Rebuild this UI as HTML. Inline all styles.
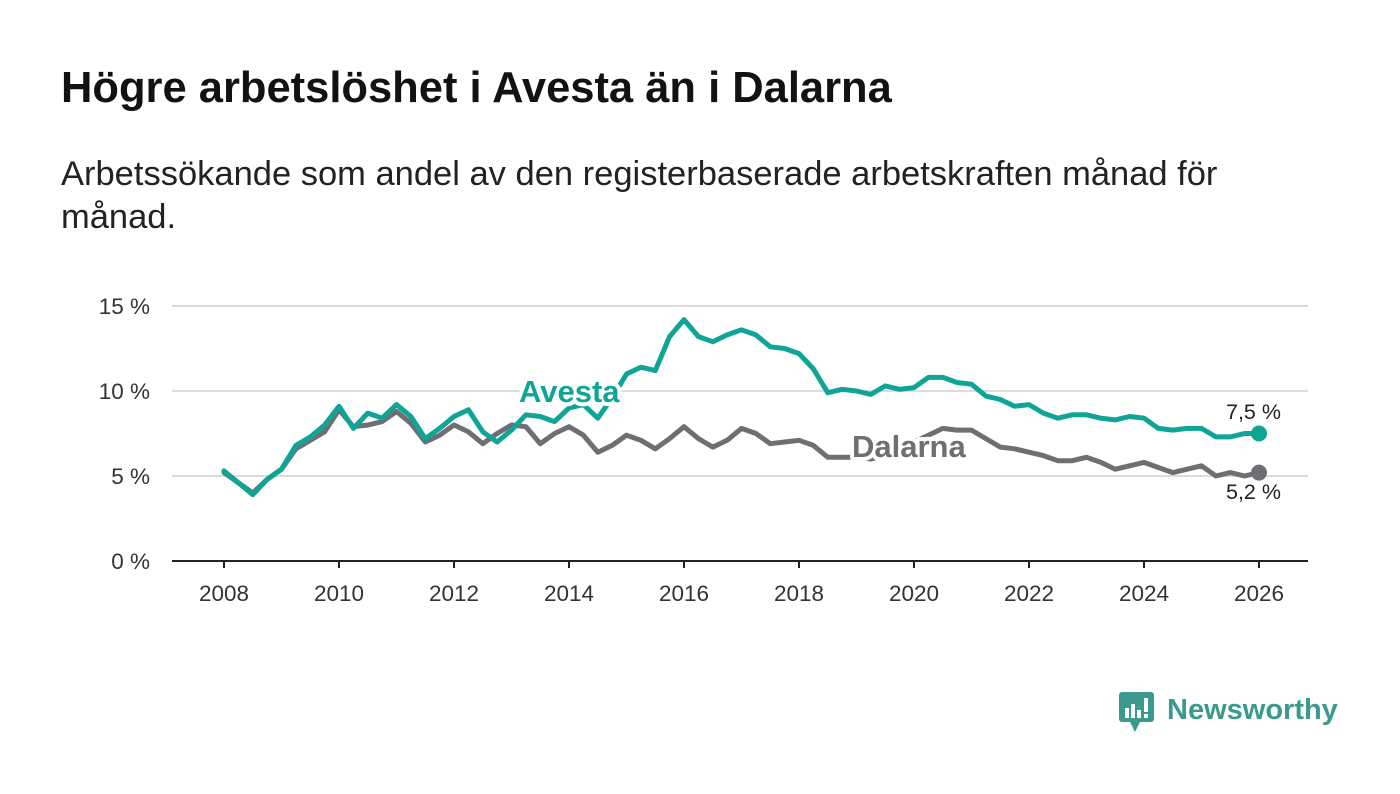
<!DOCTYPE html>
<html><head><meta charset="utf-8"><style>
body{margin:0;width:1400px;height:794px;background:#fff;font-family:"Liberation Sans",sans-serif;overflow:hidden;position:relative}
h1{position:absolute;left:61px;top:63px;margin:0;font-size:43.5px;line-height:50px;font-weight:bold;color:#121212;white-space:nowrap}
p.sub{position:absolute;left:61px;top:153px;margin:0;font-size:34.5px;line-height:43px;color:#222;width:1250px}
svg{position:absolute;left:0;top:0}
</style></head><body>
<h1>Högre arbetslöshet i Avesta än i Dalarna</h1>
<p class="sub">Arbetssökande som andel av den registerbaserade arbetskraften månad för månad.</p>
<svg id="chart" width="1400" height="794"></svg>
<script>
const years=[2008,2010,2012,2014,2016,2018,2020,2022,2024,2026];
const yTicks=[0,5,10,15];
const startYear=2008;
const avesta=[5.3,4.6,3.9,4.8,5.4,6.8,7.3,8.0,9.1,7.8,8.7,8.4,9.2,8.5,7.2,7.8,8.5,8.9,7.6,7.0,7.7,8.6,8.5,8.2,9.0,9.2,8.4,9.6,11.0,11.4,11.2,13.2,14.2,13.2,12.9,13.3,13.6,13.3,12.6,12.5,12.2,11.3,9.9,10.1,10.0,9.8,10.3,10.1,10.2,10.8,10.8,10.5,10.4,9.7,9.5,9.1,9.2,8.7,8.4,8.6,8.6,8.4,8.3,8.5,8.4,7.8,7.7,7.8,7.8,7.3,7.3,7.5,7.5];
const dalarna=[5.2,4.6,4.0,4.8,5.4,6.6,7.1,7.6,8.9,7.9,8.0,8.2,8.8,8.1,7.0,7.4,8.0,7.6,6.9,7.5,8.0,7.9,6.9,7.5,7.9,7.4,6.4,6.8,7.4,7.1,6.6,7.2,7.9,7.2,6.7,7.1,7.8,7.5,6.9,7.0,7.1,6.8,6.1,6.1,6.1,6.0,6.2,6.6,7.0,7.4,7.8,7.7,7.7,7.2,6.7,6.6,6.4,6.2,5.9,5.9,6.1,5.8,5.4,5.6,5.8,5.5,5.2,5.4,5.6,5.0,5.2,5.0,5.2];
const X=t=>224+(t-2008)*(1035/18);
const Y=v=>561-v*17;
const svg=document.getElementById('chart');
const NS='http://www.w3.org/2000/svg';
function mk(tag,attrs,parent){const e=document.createElementNS(NS,tag);for(const k in attrs)e.setAttribute(k,attrs[k]);(parent||svg).appendChild(e);return e;}
yTicks.forEach(v=>{
 const l=mk('line',{x1:172,x2:1308,y1:Y(v),y2:Y(v),stroke:v===0?'#222':'#dcdcdc','stroke-width':2});
 
 
 const t=mk('text',{x:150,y:Y(v)+8,'text-anchor':'end','font-size':22.5,fill:'#333','font-family':'Liberation Sans, sans-serif'});
 t.textContent=v+' %';
 
 
});
years.forEach(yr=>{
 const l=mk('line',{x1:X(yr),x2:X(yr),y1:561,y2:568,stroke:'#222','stroke-width':2});
 
 
 const t=mk('text',{x:X(yr),y:601,'text-anchor':'middle','font-size':22.5,fill:'#333','font-family':'Liberation Sans, sans-serif'});
 t.textContent=yr;
 
 
});
function line(data,color,name){
 const d=data.map((v,i)=>(i?'L':'M')+X(startYear+i*0.25).toFixed(1)+','+Y(v).toFixed(1)).join(' ');
 const p=mk('path',{d:d,fill:'none',stroke:color,'stroke-width':5,'stroke-linejoin':'round','stroke-linecap':'round'});
 
 
 const n=data.length-1;
 const c=mk('circle',{cx:X(startYear+n*0.25),cy:Y(data[n]),r:8,fill:color});
 
 
}
line(dalarna,'#6e6e73','dalarna');
line(avesta,'#0fa596','avesta');
function label(txt,x,y,color,name,size,weight){
 const t=mk('text',{x:x,y:y,'font-size':size,'font-weight':weight,fill:color,stroke:'#fff','stroke-width':weight==='bold'?8:6,'paint-order':'stroke','stroke-linejoin':'round','font-family':'Liberation Sans, sans-serif'});
 t.textContent=txt;
 
 
}
label('Avesta',519,402,'#0fa596','avesta-label',31,'bold');
label('Dalarna',852,457,'#6e6e73','dalarna-label',31,'bold');
label(avesta[avesta.length-1].toFixed(1).replace('.',',')+' %',1226,419,'#222','avesta-end-value',21.5,'normal');
label(dalarna[dalarna.length-1].toFixed(1).replace('.',',')+' %',1226,499,'#222','dalarna-end-value',21.5,'normal');
</script>
<svg width="1400" height="794" style="pointer-events:none">
 <rect x="1119" y="692" width="35" height="30" rx="3" fill="#3a9a8e"/>
 <polygon points="1130,722 1140,722 1135,732" fill="#3a9a8e"/>
 <rect x="1125" y="708" width="4" height="10" fill="#fff"/>
 <rect x="1131" y="704" width="4" height="14" fill="#fff"/>
 <rect x="1137" y="710" width="4" height="8" fill="#fff"/>
 <rect x="1144" y="698" width="4" height="14" fill="#fff"/>
 <rect x="1144" y="714" width="4" height="4" fill="#fff"/>
 <text x="1167" y="719" font-size="29" font-weight="bold" fill="#3a9a8e" font-family="Liberation Sans, sans-serif">Newsworthy</text>
</svg>
</body></html>
